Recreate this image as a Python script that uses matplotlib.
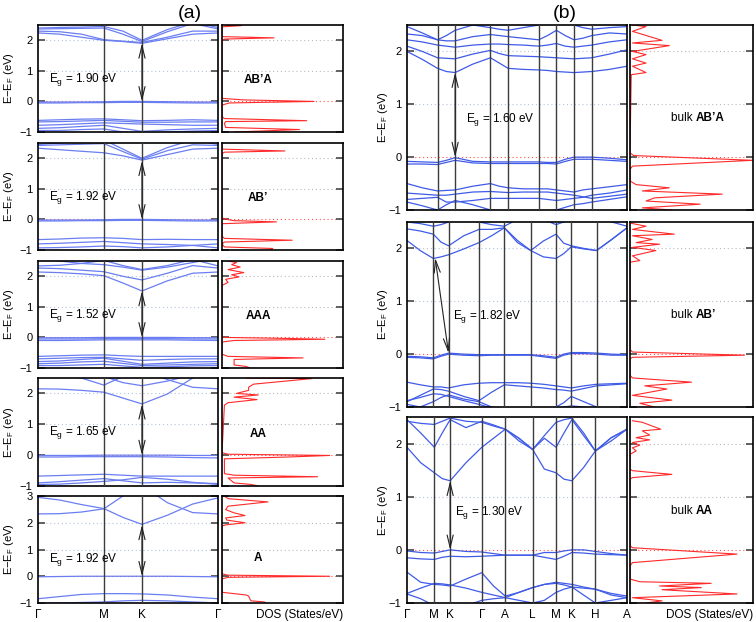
import numpy as np
import matplotlib.pyplot as plt

plt.rcParams['font.family'] = ['Liberation Sans', 'DejaVu Sans']
plt.rcParams['mathtext.fontset'] = 'custom'
plt.rcParams['mathtext.rm'] = 'Liberation Sans'
plt.rcParams['mathtext.it'] = 'Liberation Sans:italic'
plt.rcParams['mathtext.bf'] = 'Liberation Sans:bold'

# ---------------- (a) few-layer slabs, path G-M-K-G ----------------
path_a = ['Γ', 'M', 'K', 'Γ']
nodes_a = [0.0, 0.577, 0.911, 1.577]
k_a = [0.0, 0.19, 0.38, 0.577, 0.744, 0.911, 1.133, 1.355, 1.577]

names_a = ["AB’A", "AB’", "AAA", "AA", "A"]
gaps_a = [1.90, 1.92, 1.52, 1.65, 1.92]
ymax_a = [2.5, 2.5, 2.5, 2.5, 3.0]

bands_abpa = [
    [2.24, 2.20, 2.10, 2.00, 1.96, 1.90, 2.05, 2.20, 2.24],
    [2.30, 2.28, 2.20, 2.02, 1.97, 1.93, 2.10, 2.30, 2.30],
    [2.37, 2.38, 2.39, 2.40, 2.20, 1.96, 2.28, 2.55, 2.37],
    [2.40, 2.42, 2.43, 2.45, 2.30, 2.00, 2.35, 2.60, 2.42],
    [-0.02, -0.02, -0.02, -0.01, 0.0, 0.0, -0.01, -0.02, -0.02],
    [-0.05, -0.05, -0.04, -0.04, -0.03, -0.03, -0.04, -0.05, -0.05],
    [-0.62, -0.60, -0.58, -0.57, -0.60, -0.63, -0.62, -0.60, -0.62],
    [-0.67, -0.66, -0.64, -0.62, -0.65, -0.68, -0.68, -0.67, -0.67],
    [-0.78, -0.76, -0.73, -0.70, -0.72, -0.74, -0.76, -0.78, -0.78],
    [-0.88, -0.86, -0.82, -0.78, -0.88, -0.98, -0.93, -0.90, -0.88],
    [-0.95, -0.95, -0.92, -0.90, -1.00, -1.05, -1.00, -0.97, -0.95],
]
bands_abp = [
    [2.33, 2.28, 2.23, 2.18, 2.08, 1.94, 2.12, 2.30, 2.33],
    [2.42, 2.44, 2.46, 2.48, 2.22, 1.97, 2.25, 2.44, 2.42],
    [2.45, 2.50, 2.55, 2.60, 2.30, 2.00, 2.35, 2.60, 2.45],
    [-0.02, -0.02, -0.02, -0.01, 0.0, 0.0, -0.01, -0.02, -0.02],
    [-0.05, -0.05, -0.04, -0.04, -0.03, -0.03, -0.04, -0.05, -0.05],
    [-0.66, -0.64, -0.61, -0.60, -0.62, -0.66, -0.65, -0.66, -0.66],
    [-0.80, -0.78, -0.75, -0.72, -0.76, -0.80, -0.82, -0.85, -0.80],
    [-0.93, -0.92, -0.90, -0.87, -0.89, -0.93, -0.90, -0.85, -0.93],
]
bands_aaa = [
    [2.14, 2.12, 2.08, 2.02, 1.78, 1.52, 1.85, 2.10, 2.14],
    [2.27, 2.25, 2.20, 2.15, 2.00, 1.88, 2.10, 2.35, 2.27],
    [2.34, 2.36, 2.42, 2.52, 2.35, 2.22, 2.35, 2.55, 2.34],
    [2.60, 2.50, 2.42, 2.38, 2.30, 2.20, 2.30, 2.45, 2.60],
    [-0.01, -0.01, -0.01, 0.0, 0.0, 0.0, 0.0, -0.01, -0.01],
    [-0.05, -0.05, -0.05, -0.04, -0.04, -0.04, -0.04, -0.05, -0.05],
    [-0.10, -0.10, -0.09, -0.08, -0.08, -0.08, -0.08, -0.09, -0.10],
    [-0.62, -0.60, -0.58, -0.57, -0.60, -0.62, -0.62, -0.62, -0.62],
    [-0.70, -0.68, -0.66, -0.65, -0.70, -0.75, -0.72, -0.70, -0.70],
    [-0.79, -0.77, -0.72, -0.68, -0.78, -0.88, -0.84, -0.80, -0.79],
    [-0.86, -0.84, -0.80, -0.78, -0.85, -0.92, -0.90, -0.88, -0.86],
    [-0.92, -0.92, -0.90, -0.88, -0.93, -0.98, -0.96, -0.93, -0.92],
]
bands_aa = [
    [2.15, 2.14, 2.10, 2.04, 1.85, 1.66, 1.98, 2.50, 2.80],
    [2.60, 2.60, 2.50, 2.27, 2.55, 2.75, 2.45, 2.20, 2.15],
    [2.90, 2.80, 2.70, 2.55, 2.35, 2.25, 2.40, 2.60, 2.90],
    [-0.01, -0.01, -0.01, 0.0, 0.0, 0.0, 0.0, -0.01, -0.01],
    [-0.06, -0.06, -0.05, -0.05, -0.05, -0.05, -0.06, -0.08, -0.09],
    [-0.68, -0.66, -0.64, -0.62, -0.65, -0.68, -0.68, -0.68, -0.68],
    [-0.90, -0.86, -0.81, -0.76, -0.83, -0.90, -0.88, -0.90, -0.92],
    [-0.95, -0.94, -0.90, -0.85, -0.80, -0.72, -0.78, -0.88, -0.95],
]
bands_a = [
    [2.95, 2.85, 2.68, 2.53, 2.20, 1.94, 2.28, 2.70, 2.93],
    [2.33, 2.34, 2.40, 2.52, 3.00, 3.40, 2.75, 2.38, 2.33],
    [-0.02, -0.01, 0.0, 0.0, 0.0, 0.0, 0.0, -0.01, -0.02],
    [-0.84, -0.76, -0.68, -0.65, -0.65, -0.66, -0.70, -0.78, -0.84],
    [-1.00, -1.00, -0.98, -0.96, -0.92, -0.90, -0.92, -0.96, -1.00],
]

dos_e_abpa = [2.5, 2.48, 2.44, 2.12, 2.08, 2.04, 1.98, 0.1, 0.05, 0.0, -0.05, -0.12,
              -0.5, -0.56, -0.63, -0.66, -0.72, -0.85, -0.92, -1.0]
dos_abpa = [0.03, 0.16, 0.0, 0.0, 0.43, 0.02, 0.0, 0.0, 0.18, 0.76, 0.06, 0.0,
            0.0, 0.02, 0.70, 0.03, 0.02, 0.03, 0.64, 0.1]
dos_e_abp = [2.5, 2.3, 2.24, 2.2, 2.15, 0.05, 0.0, -0.04, -0.08, -0.14, -0.55, -0.62,
             -0.68, -0.74, -0.8, -0.9, -0.95, -1.0]
dos_abp = [0.0, 0.0, 0.52, 0.02, 0.0, 0.0, 0.04, 0.1, 0.45, 0.0, 0.0, 0.02,
           0.58, 0.02, 0.0, 0.02, 0.42, 0.4]
dos_e_aaa = [2.5, 2.45, 2.38, 2.3, 2.22, 2.12, 2.05, 1.98, 1.9, 1.8, 1.7, 0.05, 0.0,
             -0.03, -0.06, -0.1, -0.15, -0.55, -0.62, -0.67, -0.72, -0.9, -0.95, -1.0]
dos_aaa = [0.05, 0.12, 0.08, 0.15, 0.05, 0.18, 0.08, 0.14, 0.03, 0.05, 0.0, 0.0, 0.02,
           0.5, 0.85, 0.1, 0.0, 0.0, 0.05, 0.67, 0.1, 0.1, 0.2, 0.23]
dos_e_aa = [2.5, 2.48, 2.3, 2.2, 2.1, 2.0, 1.95, 1.88, 1.8, 1.7, 1.62, 0.08, 0.03,
            -0.01, -0.06, -0.12, -0.6, -0.65, -0.7, -0.74, -0.9, -0.95, -1.0]
dos_aa = [0.2, 0.74, 0.26, 0.22, 0.22, 0.12, 0.3, 0.1, 0.29, 0.05, 0.02, 0.0, 0.05,
          0.89, 0.55, 0.02, 0.02, 0.1, 0.79, 0.05, 0.1, 0.24, 0.3]
dos_e_a = [3.0, 2.9, 2.78, 2.62, 2.49, 2.37, 2.27, 2.18, 2.1, 2.0, 1.92, 1.88, 0.09,
           0.04, 0.0, -0.04, -0.1, -0.6, -0.7, -0.74, -0.85, -0.92, -0.96, -1.0]
dos_a = [0.02, 0.05, 0.38, 0.05, 0.03, 0.1, 0.19, 0.03, 0.04, 0.19, 0.03, 0.0, 0.0,
         0.05, 0.89, 0.05, 0.0, 0.0, 0.2, 0.22, 0.23, 0.24, 0.35, 0.36]

# ---------------- (b) bulk, path G-M-K-G-A-L-M-K-H-A ----------------
path_b = ['Γ', 'M', 'K', 'Γ', 'A', 'L', 'M', 'K', 'H', 'A']
names_b = ["AB’A", "AB’", "AA"]
gaps_b = [1.60, 1.82, 1.30]
kz_b = [0.335, 0.555, 0.495]   # length of G-A relative to in-plane segments

bands_b_abpa = [
    [2.0, 1.85, 1.68, 1.62, 1.60, 1.76, 1.88, 1.78, 1.68, 1.66, 1.65, 1.64, 1.62, 1.61, 1.60, 1.61, 1.62, 1.66, 1.72],
    [2.1, 2.0, 1.88, 1.87, 1.86, 1.95, 2.02, 1.96, 1.92, 1.91, 1.9, 1.89, 1.88, 1.87, 1.86, 1.87, 1.88, 1.95, 2.03],
    [2.22, 2.18, 2.12, 2.1, 2.08, 2.12, 2.14, 2.14, 2.13, 2.12, 2.1, 2.12, 2.15, 2.1, 2.08, 2.1, 2.12, 2.18, 2.22],
    [2.33, 2.3, 2.22, 2.2, 2.2, 2.28, 2.32, 2.3, 2.28, 2.25, 2.22, 2.3, 2.4, 2.3, 2.22, 2.25, 2.3, 2.35, 2.33],
    [2.47, 2.35, 2.22, 2.3, 2.4, 2.5, 2.45, 2.42, 2.4, 2.45, 2.5, 2.6, 2.7, 2.6, 2.5, 2.45, 2.42, 2.45, 2.47],
    [-0.08, -0.09, -0.1, -0.06, -0.01, -0.08, -0.09, -0.09, -0.09, -0.09, -0.09, -0.1, -0.1, -0.04, 0.0, 0.0, 0.0, -0.02, -0.05],
    [-0.13, -0.13, -0.14, -0.1, -0.06, -0.11, -0.12, -0.12, -0.12, -0.12, -0.12, -0.12, -0.13, -0.08, -0.04, -0.04, -0.04, -0.06, -0.08],
    [-0.5, -0.58, -0.64, -0.63, -0.62, -0.55, -0.5, -0.55, -0.58, -0.6, -0.6, -0.6, -0.62, -0.64, -0.66, -0.62, -0.6, -0.56, -0.52],
    [-0.68, -0.7, -0.72, -0.72, -0.7, -0.66, -0.65, -0.66, -0.67, -0.66, -0.66, -0.66, -0.68, -0.7, -0.72, -0.75, -0.78, -0.74, -0.7],
    [-0.8, -0.78, -0.76, -0.85, -0.85, -0.82, -0.78, -0.78, -0.78, -0.78, -0.78, -0.8, -0.82, -0.8, -0.78, -0.76, -0.72, -0.68, -0.62],
    [-0.85, -0.92, -1.0, -0.9, -0.82, -0.9, -1.0, -1.02, -1.02, -1.02, -1.02, -1.02, -1.0, -0.95, -0.9, -0.88, -0.85, -0.8, -0.75],
]
bands_b_abp = [
    [2.15, 1.96, 1.81, 1.84, 1.88, 1.99, 2.11, 2.24, 2.39, 2.11, 1.96, 1.84, 1.81, 1.9, 2.03, 1.99, 1.96, 2.17, 2.39],
    [2.37, 2.33, 2.27, 2.12, 2.05, 2.24, 2.36, 2.36, 2.39, 2.15, 1.96, 2.14, 2.27, 2.1, 2.05, 2.0, 1.96, 2.17, 2.39],
    [2.5, 2.47, 2.42, 2.45, 2.5, 2.55, 2.5, 2.45, 2.42, 2.55, 2.65, 2.55, 2.45, 2.5, 2.55, 2.6, 2.6, 2.5, 2.42],
    [-0.04, -0.05, -0.07, -0.02, 0.02, 0.0, -0.01, -0.01, -0.01, -0.01, -0.01, -0.03, -0.06, 0.0, 0.03, 0.03, 0.02, 0.0, -0.01],
    [-0.06, -0.07, -0.09, -0.04, 0.0, -0.02, -0.03, -0.02, -0.02, -0.02, -0.02, -0.05, -0.08, -0.02, 0.01, 0.01, 0.0, -0.02, -0.02],
    [-0.53, -0.58, -0.62, -0.62, -0.64, -0.58, -0.55, -0.54, -0.54, -0.54, -0.55, -0.57, -0.6, -0.62, -0.64, -0.6, -0.57, -0.56, -0.55],
    [-0.9, -0.78, -0.66, -0.67, -0.7, -0.8, -0.88, -0.72, -0.58, -0.6, -0.62, -0.64, -0.67, -0.68, -0.7, -0.65, -0.6, -0.58, -0.56],
    [-0.88, -0.82, -0.75, -0.76, -0.8, -0.88, -0.95, -1.02, -1.1, -1.1, -1.1, -1.05, -1.0, -0.92, -0.8, -0.9, -1.0, -1.05, -1.1],
    [-0.95, -1.0, -0.9, -0.82, -0.77, -0.85, -0.9, -1.0, -1.05, -1.05, -1.05, -1.05, -1.02, -1.0, -0.98, -1.0, -1.05, -1.05, -1.05],
]
bands_b_aa = [
    [1.93, 1.64, 1.45, 1.34, 1.30, 1.64, 1.93, 2.1, 2.27, 2.1, 1.89, 1.52, 1.45, 1.33, 1.30, 1.55, 1.86, 2.11, 2.27],
    [2.45, 2.2, 1.93, 2.2, 2.45, 2.3, 2.42, 2.35, 2.27, 2.1, 1.89, 2.1, 1.93, 2.2, 2.45, 2.15, 1.86, 2.11, 2.27],
    [2.42, 2.38, 2.36, 2.42, 2.48, 2.42, 2.4, 2.33, 2.27, 2.05, 1.89, 2.15, 2.4, 2.45, 2.48, 2.2, 1.86, 2.05, 2.27],
    [-0.02, -0.05, -0.06, -0.03, 0.0, -0.03, -0.04, -0.07, -0.1, -0.1, -0.1, -0.05, -0.05, -0.02, 0.0, 0.0, -0.03, -0.07, -0.1],
    [-0.15, -0.17, -0.18, -0.14, -0.12, -0.13, -0.12, -0.11, -0.1, -0.1, -0.1, -0.14, -0.18, -0.12, -0.05, -0.06, -0.08, -0.09, -0.1],
    [-0.42, -0.61, -0.65, -0.66, -0.68, -0.55, -0.43, -0.68, -0.87, -0.8, -0.71, -0.65, -0.61, -0.63, -0.65, -0.7, -0.74, -0.82, -0.87],
    [-0.82, -0.72, -0.63, -0.64, -0.66, -0.72, -0.8, -0.85, -0.9, -0.8, -0.71, -0.65, -0.63, -0.66, -0.7, -0.72, -0.74, -0.85, -0.9],
    [-0.83, -0.92, -1.05, -1.1, -1.1, -1.05, -0.95, -0.92, -0.9, -0.95, -1.0, -0.95, -0.8, -0.74, -0.7, -0.85, -1.0, -0.95, -0.9],
]

dos_e_b_abpa = [2.5, 2.47, 2.38, 2.21, 2.16, 2.11, 2.0, 1.94, 1.86, 1.78, 1.72, 1.6, 1.56,
                0.08, 0.03, -0.06, -0.17, -0.23, -0.45, -0.52, -0.58, -0.64, -0.7,
                -0.77, -0.83, -0.89, -0.96, -1.0]
dos_b_abpa = [0.02, 0.13, 0.02, 0.26, 0.02, 0.32, 0.02, 0.13, 0.02, 0.13, 0.02, 0.13, 0.01,
              0.0, 0.03, 1.0, 0.02, 0.0, 0.0, 0.05, 0.32, 0.1, 0.75,
              0.2, 0.13, 0.57, 0.1, 0.34]
dos_e_b_abp = [2.48, 2.42, 2.36, 2.27, 2.24, 2.17, 2.11, 2.08, 2.02, 1.96, 1.86, 1.77, 1.74,
               0.09, 0.04, -0.02, -0.06, -0.09, -0.4, -0.45, -0.53, -0.6, -0.66,
               -0.78, -0.87, -0.93, -1.0]
dos_b_abp = [0.0, 0.13, 0.02, 0.36, 0.02, 0.18, 0.05, 0.24, 0.02, 0.21, 0.02, 0.08, 0.0,
             0.0, 0.02, 0.93, 0.02, 0.0, 0.0, 0.02, 0.5, 0.12, 0.3,
             0.02, 0.34, 0.08, 0.2]
dos_e_b_aa = [2.43, 2.4, 2.27, 2.24, 2.16, 2.11, 2.07, 2.02, 1.97, 1.92, 1.86, 1.8, 1.52,
              1.49, 1.42, 1.36, 1.33, 0.08, 0.04, -0.08, -0.24, -0.3, -0.55, -0.6,
              -0.63, -0.68, -0.71, -0.75, -0.83, -0.9, -0.96, -1.0]
dos_b_aa = [0.02, 0.1, 0.25, 0.1, 0.16, 0.05, 0.16, 0.02, 0.08, 0.02, 0.05, 0.0, 0.0,
            0.02, 0.34, 0.02, 0.0, 0.0, 0.02, 0.87, 0.02, 0.0, 0.0, 0.08,
            0.66, 0.24, 0.58, 0.26, 0.87, 0.02, 0.26, 0.13]

W, H = 756, 622
fig = plt.figure(figsize=(W / 100, H / 100), dpi=100)


def px_axes(x0, x1, y0, y1):
    return fig.add_axes([x0 / W, 1 - y1 / H, (x1 - x0) / W, (y1 - y0) / H])


def style(ax, top, grid_color):
    ax.set_ylim(-1, top)
    for s in ax.spines.values():
        s.set_linewidth(1.2)
    ax.tick_params(axis='y', direction='in', left=True, right=True, length=5,
                   width=1.3, color='#555555', labelsize=8, pad=4)
    ax.tick_params(axis='x', length=0, labelsize=8.5, pad=4)
    ax.set_yticks(np.arange(-1, top + 0.01, 1))
    for y in np.arange(1, top, 1):
        ax.axhline(y, color=grid_color, lw=0.8, ls=(0, (1, 2.5)), zorder=0)
    ax.axhline(0, color='#ff5050', lw=0.8, ls=(0, (1, 2.5)), zorder=0)


def band_panel(ax, k, bands, nodes, top, color):
    style(ax, top, '#b4c3dc')
    for b in bands:
        ax.plot(k, b, color=color, lw=0.9, zorder=2)
    for x in nodes[1:-1]:
        ax.axvline(x, color='#3c3c3c', lw=1.0, zorder=3)
    ax.set_xlim(nodes[0], nodes[-1])
    ax.set_xticks(nodes)
    ax.set_ylabel('E\u2212E$_\\mathrm{F}$ (eV)', fontsize=8)


def dos_panel(ax, e, d, top):
    style(ax, top, '#bbbbbb')
    ax.plot(d, e, color='#ff2a2a', lw=0.8, zorder=2)
    ax.set_xlim(0, 1)
    ax.set_yticklabels([])
    ax.set_xticks([1.0])


def gap_arrow(ax, x0, y0, x1, y1):
    ax.annotate('', xy=(x1, y1), xytext=(x0, y0), zorder=4,
                arrowprops=dict(arrowstyle='<->,head_length=0.9,head_width=0.22',
                                color='#222222', lw=0.8, shrinkA=0, shrinkB=0))


# ---- column (a) ----
rows_a = [(25, 132), (143, 250), (261, 368), (378, 486), (496, 603)]
bands_list_a = [bands_abpa, bands_abp, bands_aaa, bands_aa, bands_a]
dos_list_a = [(dos_e_abpa, dos_abpa), (dos_e_abp, dos_abp), (dos_e_aaa, dos_aaa),
              (dos_e_aa, dos_aa), (dos_e_a, dos_a)]
for i, (y0, y1) in enumerate(rows_a):
    top = ymax_a[i]
    axb = px_axes(38, 218, y0, y1)
    band_panel(axb, k_a, bands_list_a[i], nodes_a, top, '#6a7ef2')
    axb.yaxis.set_label_coords(-0.122, 0.5)
    gap_arrow(axb, nodes_a[2], 0, nodes_a[2], gaps_a[i])
    axb.text(0.06, 0.72 if top < 3 else 0.64, 'E$_\\mathrm{g}$ = %.2f eV' % gaps_a[i],
             fontsize=8.5, transform=axb.get_yaxis_transform(), va='center')
    axd = px_axes(222, 343, y0, y1)
    dos_panel(axd, dos_list_a[i][0], dos_list_a[i][1], top)
    axd.text(0.3, 0.7, names_a[i], fontsize=8.5, fontweight='bold', ha='center',
             va='center', transform=axd.get_yaxis_transform())
    if i == len(rows_a) - 1:
        axb.set_xticklabels(path_a)
        axd.set_xticklabels(['DOS (States/eV)'], ha='right')
    else:
        axb.set_xticklabels([])
        axd.set_xticklabels([])

fig.text(190 / W, 1 - 13 / H, '(a)', fontsize=14, ha='center', va='center')
fig.text(565 / W, 1 - 13 / H, '(b)', fontsize=14, ha='center', va='center')

# ---- column (b) ----
rows_b = [(25, 210), (222, 407), (417, 603)]
bands_list_b = [bands_b_abpa, bands_b_abp, bands_b_aa]
dos_list_b = [(dos_e_b_abpa, dos_b_abpa), (dos_e_b_abp, dos_b_abp), (dos_e_b_aa, dos_b_aa)]
for i, (y0, y1) in enumerate(rows_b):
    g = kz_b[i]
    seg = [0.577, 0.333, 0.667, g, 0.577, g, 0.333, g, 0.667]
    nodes = np.concatenate([[0], np.cumsum(seg)])
    k = np.empty(2 * len(nodes) - 1)
    k[0::2] = nodes
    k[1::2] = 0.5 * (nodes[:-1] + nodes[1:])
    axb = px_axes(407, 627, y0, y1)
    band_panel(axb, k, bands_list_b[i], nodes, 2.5, '#3f5be8')
    axb.yaxis.set_label_coords(-0.075, 0.5)
    if i == 1:
        gap_arrow(axb, nodes[2], 0.02, nodes[1] + 0.04, gaps_b[i])
    else:
        gap_arrow(axb, nodes[2], 0, nodes[2], gaps_b[i])
    axb.text(nodes[2] + 0.2 if i == 0 else nodes[2] + 0.1, 0.71,
             'E$_\\mathrm{g}$ = %.2f eV' % gaps_b[i], fontsize=8.5, va='center')
    axd = px_axes(630, 753, y0, y1)
    dos_panel(axd, dos_list_b[i][0], dos_list_b[i][1], 2.5)
    t = axd.text(0.33, 0.74, 'bulk ', fontsize=8.5, va='center',
                 transform=axd.get_yaxis_transform())
    axd.annotate(names_b[i], xy=(1, 0.5), xycoords=t, fontsize=8.5,
                 fontweight='bold', va='center', ha='left')
    if i == len(rows_b) - 1:
        axb.set_xticklabels(path_b)
        axd.set_xticklabels(['DOS (States/eV)'], ha='right')
    else:
        axb.set_xticklabels([])
        axd.set_xticklabels([])

fig.savefig('out.png', dpi=100)
